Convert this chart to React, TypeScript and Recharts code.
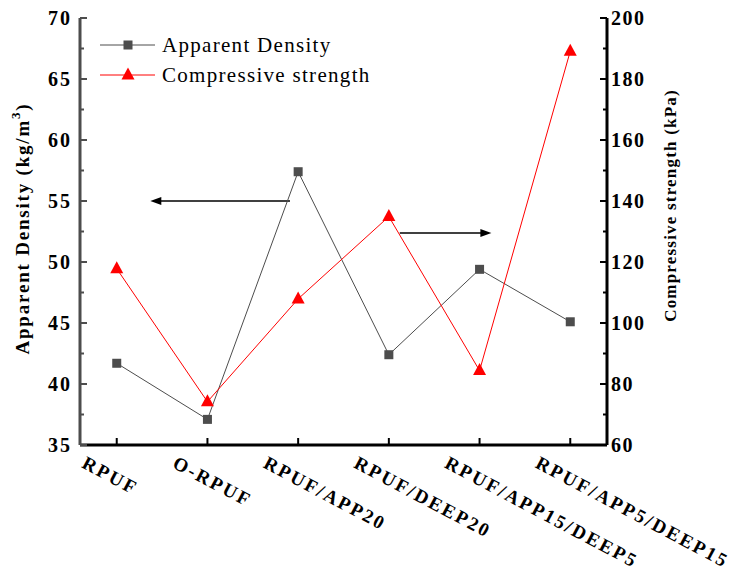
import React from "react";
import {
  Label,
  Legend,
  Line,
  LineChart,
  ReferenceLine,
  XAxis,
  YAxis,
} from "recharts";

const categories = [
  "RPUF",
  "O-RPUF",
  "RPUF/APP20",
  "RPUF/DEEP20",
  "RPUF/APP15/DEEP5",
  "RPUF/APP5/DEEP15",
];
const densityValues = [41.7, 37.1, 57.4, 42.4, 49.4, 45.1];
const strengthValues = [117.8, 74.2, 107.9, 134.9, 84.4, 189.1];

const leftTicks = [35, 37.5, 40, 42.5, 45, 47.5, 50, 52.5, 55, 57.5, 60, 62.5, 65, 67.5, 70];
const rightTicks = [60, 70, 80, 90, 100, 110, 120, 130, 140, 150, 160, 170, 180, 190, 200];
const xTicks = [0, 1, 2, 3, 4, 5];

// annotation arrows, in data units (x = category index)
const leftArrow = { from: 1.91, to: 0.37, y: 55 };
const rightArrow = { from: 3.12, to: 4.13, y: 129.5 };

const rows = categories.map((name, i) => ({
  idx: i,
  name,
  density: densityValues[i],
  strength: strengthValues[i],
}));

const FONT = '"Liberation Serif", "Times New Roman", serif';
const GRAY = "#4d4d4d";
const RED = "#ff0000";

function SquareDot(props: any) {
  const { cx, cy } = props;
  if (cx == null || cy == null) return null;
  return <rect x={cx - 4.5} y={cy - 4.5} width={9} height={9} fill={GRAY} />;
}

function TriangleDot(props: any) {
  const { cx, cy } = props;
  if (cx == null || cy == null) return null;
  return (
    <polygon
      points={`${cx},${cy - 7.5} ${cx - 6.5},${cy + 4.5} ${cx + 6.5},${cy + 4.5}`}
      fill={RED}
    />
  );
}

function LeftTick({ x, y, payload }: any) {
  const major = payload.value % 5 === 0;
  const ax = x + 8;
  return (
    <g>
      <line x1={ax} x2={ax + (major ? 7 : 4)} y1={y} y2={y} stroke={GRAY} strokeWidth={2} />
      {major && (
        <text
          x={x}
          y={y}
          dy="0.35em"
          textAnchor="end"
          fontFamily={FONT}
          fontWeight="bold"
          fontSize={20}
          letterSpacing={2}
          fill="#000"
        >
          {payload.value}
        </text>
      )}
    </g>
  );
}

function RightTick({ x, y, payload }: any) {
  const major = payload.value % 20 === 0;
  const ax = x - 4;
  return (
    <g>
      <line x1={ax} x2={ax - (major ? 7 : 4)} y1={y} y2={y} stroke="#000" strokeWidth={2} />
      {major && (
        <text
          x={x}
          y={y}
          dy="0.35em"
          textAnchor="start"
          fontFamily={FONT}
          fontWeight="bold"
          fontSize={20}
          letterSpacing={1.5}
          fill="#000"
        >
          {payload.value}
        </text>
      )}
    </g>
  );
}

function BottomTick({ x, y, payload }: any) {
  const tx = x - 36;
  const ty = y + 22;
  return (
    <g>
      <line x1={x} x2={x} y1={y} y2={y - 7} stroke="#000" strokeWidth={2} />
      <text
        x={tx}
        y={ty}
        transform={`rotate(28 ${tx} ${ty})`}
        textAnchor="start"
        fontFamily={FONT}
        fontWeight="bold"
        fontSize={19}
        letterSpacing={2.4}
        fill="#000"
      >
        {categories[payload.value]}
      </text>
    </g>
  );
}

function LeftTitle({ viewBox }: any) {
  const cx = viewBox.x + 22;
  const cy = viewBox.y + viewBox.height / 2 - 3;
  return (
    <text
      x={cx}
      y={cy}
      transform={`rotate(-90 ${cx} ${cy})`}
      textAnchor="middle"
      dominantBaseline="central"
      fontFamily={FONT}
      fontWeight="bold"
      fontSize={19}
      letterSpacing={1.8}
      fill="#000"
    >
      Apparent Density (kg/m
      <tspan fontSize={13} dy={-7}>3</tspan>
      <tspan dy={7}>)</tspan>
    </text>
  );
}

function RightTitle({ viewBox }: any) {
  const cx = viewBox.x + 63;
  const cy = viewBox.y + viewBox.height / 2 - 26;
  return (
    <text
      x={cx}
      y={cy}
      transform={`rotate(-90 ${cx} ${cy})`}
      textAnchor="middle"
      dominantBaseline="central"
      fontFamily={FONT}
      fontWeight="bold"
      fontSize={17}
      letterSpacing={1.2}
      fill="#000"
    >
      Compressive strength (kPa)
    </text>
  );
}

function Arrow(props: any) {
  const { x1, y1, x2, y2 } = props;
  const dir = x2 > x1 ? 1 : -1;
  return (
    <g>
      <line x1={x1} y1={y1} x2={x2 - dir * 6} y2={y2} stroke="#000" strokeWidth={1.5} />
      <polygon
        points={`${x2},${y2} ${x2 - dir * 11},${y2 - 4} ${x2 - dir * 11},${y2 + 4}`}
        fill="#000"
      />
    </g>
  );
}

function LegendBox({ payload }: any) {
  const entries = payload || [];
  return (
    <svg width={320} height={64}>
      {entries.map((entry: any, i: number) => {
        const cy = 15 + i * 30;
        const isRed = entry.dataKey === "strength";
        const color = isRed ? RED : GRAY;
        return (
          <g key={entry.dataKey}>
            <line x1={5} x2={60} y1={cy} y2={cy} stroke={color} strokeWidth={1} />
            {isRed ? (
              <TriangleDot cx={33} cy={cy} />
            ) : (
              <SquareDot cx={33} cy={cy} />
            )}
            <text
              x={67}
              y={cy}
              dy="0.35em"
              fontFamily={FONT}
              fontSize={21}
              letterSpacing={1.3}
              fill="#000"
            >
              {entry.value}
            </text>
          </g>
        );
      })}
    </svg>
  );
}

export default function App() {
  return (
    <div style={{ position: "absolute", left: 0, top: 0, width: 747, height: 575, background: "#fff" }}>
      <LineChart
        width={747}
        height={575}
        data={rows}
        margin={{ top: 18, right: 0, bottom: 0, left: 0 }}
      >
        <XAxis
          xAxisId="x"
          type="number"
          dataKey="idx"
          domain={[-0.405, 5.405]}
          ticks={xTicks}
          interval={0}
          allowDataOverflow
          height={130}
          tickSize={0}
          tickMargin={0}
          tickLine={false}
          tick={<BottomTick />}
          axisLine={{ stroke: "#000", strokeWidth: 3 }}
        />
        <XAxis
          xAxisId="top"
          orientation="top"
          type="number"
          dataKey="idx"
          domain={[-0.405, 5.405]}
          allowDataOverflow
          height={0}
          tick={false}
          tickLine={false}
          axisLine={{ stroke: "#000", strokeWidth: 3 }}
        />
        <YAxis
          yAxisId="left"
          width={80}
          domain={[35, 70]}
          ticks={leftTicks}
          interval={0}
          allowDataOverflow
          tickSize={0}
          tickMargin={8}
          tickLine={false}
          tick={<LeftTick />}
          axisLine={{ stroke: GRAY, strokeWidth: 3 }}
        >
          <Label content={<LeftTitle />} />
        </YAxis>
        <YAxis
          yAxisId="right"
          orientation="right"
          width={140}
          domain={[60, 200]}
          ticks={rightTicks}
          interval={0}
          allowDataOverflow
          tickSize={0}
          tickMargin={4}
          tickLine={false}
          tick={<RightTick />}
          axisLine={{ stroke: "#000", strokeWidth: 3 }}
        >
          <Label content={<RightTitle />} />
        </YAxis>
        <Legend
          layout="vertical"
          align="center"
          verticalAlign="middle"
          content={<LegendBox />}
          wrapperStyle={{ left: 95, top: 30, width: 320, height: 64 }}
        />
        <ReferenceLine
          xAxisId="x"
          yAxisId="left"
          segment={[
            { x: leftArrow.from, y: leftArrow.y },
            { x: leftArrow.to, y: leftArrow.y },
          ]}
          shape={<Arrow />}
        />
        <ReferenceLine
          xAxisId="x"
          yAxisId="right"
          segment={[
            { x: rightArrow.from, y: rightArrow.y },
            { x: rightArrow.to, y: rightArrow.y },
          ]}
          shape={<Arrow />}
        />
        <Line
          xAxisId="x"
          yAxisId="left"
          dataKey="density"
          name="Apparent Density"
          stroke={GRAY}
          strokeWidth={1}
          dot={<SquareDot />}
          activeDot={false}
          isAnimationActive={false}
        />
        <Line
          xAxisId="x"
          yAxisId="right"
          dataKey="strength"
          name="Compressive strength"
          stroke={RED}
          strokeWidth={1}
          dot={<TriangleDot />}
          activeDot={false}
          isAnimationActive={false}
        />
      </LineChart>
    </div>
  );
}
